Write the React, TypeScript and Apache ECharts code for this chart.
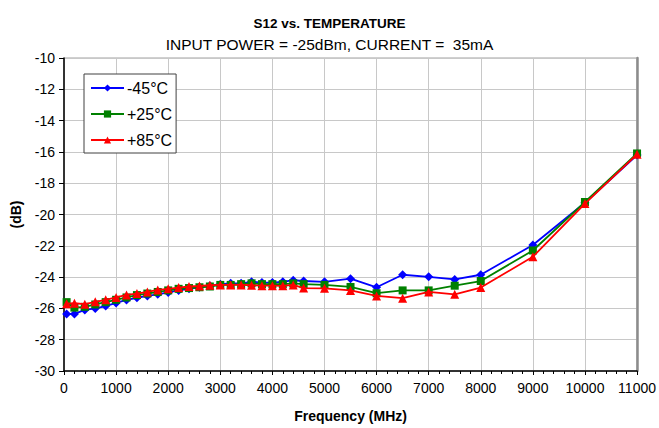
import React, { useEffect, useRef } from "react";
import * as echarts from "echarts";

const freqs = [50, 200, 400, 600, 800, 1000, 1200, 1400, 1600, 1800, 2000, 2200, 2400, 2600, 2800, 3000, 3200, 3400, 3600, 3800, 4000, 4200, 4400, 4600, 5000, 5500, 6000, 6500, 7000, 7500, 8000, 9000, 10000, 11000];

const minus45 = [-26.35, -26.35, -26.1, -26.0, -25.85, -25.65, -25.46, -25.32, -25.2, -25.1, -24.98, -24.85, -24.75, -24.65, -24.55, -24.45, -24.4, -24.4, -24.3, -24.35, -24.35, -24.3, -24.2, -24.25, -24.3, -24.1, -24.65, -23.85, -23.98, -24.15, -23.85, -21.95, -19.25, -16.2];

const plus25 = [-25.6, -25.95, -25.9, -25.75, -25.6, -25.45, -25.3, -25.15, -25.05, -24.95, -24.85, -24.75, -24.7, -24.65, -24.6, -24.5, -24.5, -24.45, -24.4, -24.45, -24.45, -24.45, -24.4, -24.45, -24.5, -24.63, -25.03, -24.85, -24.85, -24.55, -24.25, -22.3, -19.2, -16.1];

const plus85 = [-25.7, -25.67, -25.73, -25.58, -25.45, -25.3, -25.14, -25.05, -24.95, -24.82, -24.75, -24.67, -24.6, -24.57, -24.52, -24.5, -24.5, -24.5, -24.52, -24.55, -24.55, -24.56, -24.5, -24.7, -24.72, -24.85, -25.2, -25.35, -24.95, -25.1, -24.67, -22.7, -19.3, -16.15];

const seriesNames = ["-45°C", "+25°C", "+85°C"];
const seriesColors = ["#0000ff", "#008000", "#ff0000"];
const seriesSymbols = ["diamond", "rect", "triangle"];
const seriesSizes = [9, 8, 9];

const titleText = "S12 vs. TEMPERATURE";
const subTitleText = "INPUT POWER = -25dBm, CURRENT =  35mA";

export default function App() {
  const ref = useRef<HTMLDivElement>(null);
  useEffect(() => {
    if (!ref.current) return;
    const chart = echarts.init(ref.current, null, { renderer: "svg" });
    const allData = [minus45, plus25, plus85];
    const font = "'Liberation Sans', Arial, sans-serif";
    chart.setOption({
      animation: false,
      textStyle: { fontFamily: font },
      title: [
        {
          text: titleText,
          left: "center",
          top: 11,
          textStyle: { fontFamily: font, fontSize: 13.5, fontWeight: "bold", color: "#000" },
        },
        {
          text: subTitleText,
          left: "center",
          top: 31,
          textStyle: { fontFamily: font, fontSize: 15.5, fontWeight: "normal", color: "#000" },
        },
      ],
      legend: {
        orient: "vertical",
        left: 84,
        top: 74,
        padding: [5, 4, 4, 6],
        itemGap: 8,
        itemWidth: 33,
        itemHeight: 9,
        backgroundColor: "#fff",
        borderColor: "#404040",
        borderWidth: 1,
        borderRadius: 0,
        textStyle: { fontFamily: font, fontSize: 16, color: "#000", padding: [0, 0, 0, -2], lineHeight: 18 },
        data: seriesNames,
      },
      grid: {
        left: 64,
        right: 21,
        top: 58,
        bottom: 56,
        show: true,
        borderColor: "#a0a0a0",
        borderWidth: 1,
        backgroundColor: "#fff",
      },
      xAxis: {
        type: "value",
        min: 0,
        max: 11000,
        interval: 1000,
        name: "Frequency (MHz)",
        nameLocation: "middle",
        nameGap: 38,
        nameTextStyle: { fontFamily: font, fontSize: 14, fontWeight: "bold", color: "#000" },
        axisLine: { show: true, lineStyle: { color: "#000", width: 1.5 } },
        axisTick: { show: true, inside: false, length: 4, lineStyle: { color: "#000" } },
        minorTick: { show: true, splitNumber: 5, length: 3, lineStyle: { color: "#000" } },
        axisLabel: { fontFamily: font, fontSize: 14, color: "#000", margin: 10, formatter: (v: number) => String(v) },
        splitLine: { show: true, lineStyle: { color: "#c8c8c8", width: 1 } },
      },
      yAxis: [
        {
          type: "value",
          min: -30,
          max: -10,
          interval: 2,
          name: "(dB)",
          nameLocation: "middle",
          nameGap: 41,
          nameRotate: 90,
          nameTextStyle: { fontFamily: font, fontSize: 14, fontWeight: "bold", color: "#000" },
          axisLine: { show: true, onZero: false, lineStyle: { color: "#000", width: 1.5 } },
          axisTick: { show: true, length: 5, lineStyle: { color: "#000" } },
          axisLabel: { fontFamily: font, fontSize: 14, color: "#000", margin: 9 },
          splitLine: { show: true, lineStyle: { color: "#c8c8c8", width: 1 } },
        },
        {
          type: "value",
          min: -30,
          max: -10,
          interval: 2,
          position: "right",
          axisLine: { show: true, onZero: false, lineStyle: { color: "#8c8c8c", width: 2.5 } },
          axisTick: { show: false },
          axisLabel: { show: false },
          splitLine: { show: false },
        },
      ],
      series: seriesNames.map((name, i) => ({
        name,
        type: "line",
        yAxisIndex: 0,
        data: freqs.map((f, j) => [f, allData[i][j]]),
        symbol: seriesSymbols[i],
        symbolSize: seriesSizes[i],
        showAllSymbol: true,
        lineStyle: { color: seriesColors[i], width: 1.8 },
        itemStyle: { color: seriesColors[i] },
        z: 2 + i,
      })),
    });
    return () => chart.dispose();
  }, []);
  return <div ref={ref} style={{ width: 659, height: 428, position: "absolute", left: 0, top: 0 }} />;
}
